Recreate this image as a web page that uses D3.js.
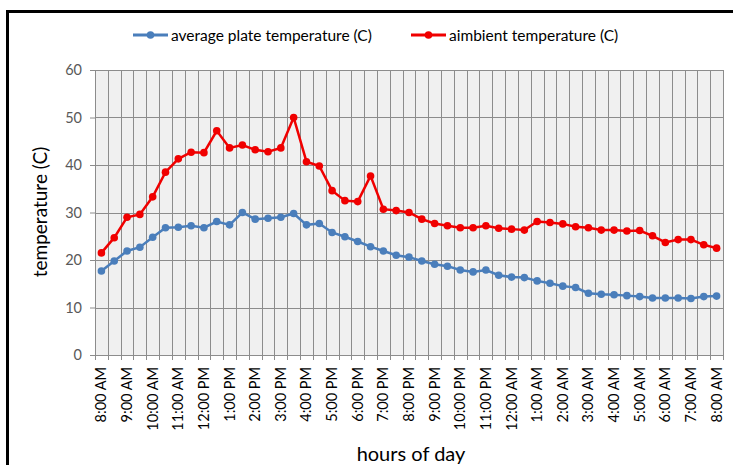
<!DOCTYPE html>
<meta charset="utf-8">
<html>
<head>
<title>plate vs ambient temperature</title>
<style>
body { margin: 0; background: #fff; }
text { font-family: Lato, "Open Sans", sans-serif; }
</style>
</head>
<body>
<script src="https://d3js.org/d3.v7.min.js"></script>
<script>

// half-hour readings, 8:00 AM to 8:00 AM next day
var hourLabels = ["8:00 AM","9:00 AM","10:00 AM","11:00 AM","12:00 PM","1:00 PM","2:00 PM","3:00 PM",
                  "4:00 PM","5:00 PM","6:00 PM","7:00 PM","8:00 PM","9:00 PM","10:00 PM","11:00 PM",
                  "12:00 AM","1:00 AM","2:00 AM","3:00 AM","4:00 AM","5:00 AM","6:00 AM","7:00 AM","8:00 AM"];

var plateTemp = [17.7,19.8,21.9,22.7,24.8,26.8,26.9,27.2,26.8,28.1,27.4,30.0,
                 28.6,28.8,29.0,29.8,27.4,27.7,25.8,24.9,23.9,22.8,21.9,21.0,
                 20.6,19.8,19.1,18.7,17.9,17.5,17.9,16.8,16.4,16.3,15.6,15.1,
                 14.5,14.2,13.0,12.8,12.7,12.5,12.3,12.0,12.0,12.0,11.9,12.3,12.4];

var ambientTemp = [21.5,24.7,29.0,29.6,33.3,38.5,41.3,42.7,42.6,47.2,43.6,44.2,
                   43.2,42.8,43.6,50.0,40.7,39.8,34.6,32.5,32.3,37.7,30.7,30.4,
                   30.0,28.6,27.7,27.2,26.8,26.8,27.2,26.7,26.5,26.3,28.1,27.9,
                   27.6,27.0,26.8,26.3,26.3,26.1,26.2,25.1,23.7,24.3,24.3,23.2,22.5];

var yTicks = [0,10,20,30,40,50,60];

var seriesNames = ["average plate temperature (C)", "aimbient temperature (C)"];
var seriesColors = ["#4a7ebb", "#f00000"];

var width = 733, height = 465;
var margin = {top: 70, right: 10, bottom: 110, left: 95};
var plotW = 723 - margin.left, plotH = 355 - margin.top;

var svg = d3.select("body").append("svg")
    .attr("width", width)
    .attr("height", height);

// outer frame (runs off the right and bottom edge)
svg.append("rect")
    .attr("x", 7.5).attr("y", 11.5)
    .attr("width", 800).attr("height", 600)
    .attr("fill", "none")
    .attr("stroke", "#000")
    .attr("stroke-width", 3);

var idx = d3.range(plateTemp.length);

var x = d3.scaleBand().domain(idx).range([0, plotW]);
var y = d3.scaleLinear().domain([0, 60]).range([plotH, 0]);

var g = svg.append("g").attr("transform", "translate(" + margin.left + "," + margin.top + ")");

g.append("rect")
    .attr("width", plotW).attr("height", plotH)
    .attr("fill", "#f0f0f0");

// vertical grid at every category boundary
var bounds = d3.range(plateTemp.length + 1).map(function(i) { return i * x.step(); });
g.selectAll(".vgrid").data(bounds.slice(1))
  .enter().append("line")
    .attr("x1", function(d) { return Math.round(d) + 0.5; })
    .attr("x2", function(d) { return Math.round(d) + 0.5; })
    .attr("y1", 0).attr("y2", plotH)
    .attr("stroke", "#8c8c8c").attr("stroke-width", 1);

g.selectAll(".hgrid").data(yTicks)
  .enter().append("line")
    .attr("x1", 0).attr("x2", plotW)
    .attr("y1", function(d) { return Math.round(y(d)) + 0.5; })
    .attr("y2", function(d) { return Math.round(y(d)) + 0.5; })
    .attr("stroke", "#8c8c8c").attr("stroke-width", 1);

// y axis
var yAxis = g.append("g")
    .call(d3.axisLeft(y).tickValues(yTicks).tickSize(5).tickPadding(8));
yAxis.select(".domain").attr("stroke", "#8c8c8c");
yAxis.selectAll(".tick line").attr("stroke", "#8c8c8c");
yAxis.selectAll("text").attr("fill", "#595959").style("font-size", "14.5px");

// x axis: ticks at boundaries, labels every hour
var xAxisG = g.append("g").attr("transform", "translate(0," + plotH + ")");
xAxisG.append("line")
    .attr("x1", 0).attr("x2", plotW).attr("y1", 0.5).attr("y2", 0.5)
    .attr("stroke", "#8c8c8c");
xAxisG.selectAll(".xt").data(bounds)
  .enter().append("line")
    .attr("x1", function(d) { return Math.round(d) + 0.5; })
    .attr("x2", function(d) { return Math.round(d) + 0.5; })
    .attr("y1", 0).attr("y2", 5)
    .attr("stroke", "#8c8c8c");
xAxisG.selectAll(".xl").data(hourLabels)
  .enter().append("text")
    .attr("transform", function(d, i) {
      var cx = x(i * 2) + x.bandwidth() / 2;
      return "translate(" + (cx + 5) + ",12) rotate(-90)";
    })
    .attr("text-anchor", "end")
    .attr("fill", "#000")
    .style("font-size", "14.5px")
    .text(function(d) { return d; });

// lines and markers
var line = d3.line()
    .x(function(d, i) { return x(i) + x.bandwidth() / 2; })
    .y(function(d) { return y(d); });

[plateTemp, ambientTemp].forEach(function(s, k) {
  g.append("path").datum(s)
      .attr("d", line)
      .attr("fill", "none")
      .attr("stroke", seriesColors[k])
      .attr("stroke-width", 2.5);
  g.selectAll(".m" + k).data(s)
    .enter().append("circle")
      .attr("cx", function(d, i) { return x(i) + x.bandwidth() / 2; })
      .attr("cy", function(d) { return y(d); })
      .attr("r", 3.8)
      .attr("fill", seriesColors[k]);
});

// axis titles
svg.append("text")
    .attr("transform", "translate(47,212) rotate(-90)")
    .attr("text-anchor", "middle")
    .style("font-size", "19px")
    .text("temperature (C)");

svg.append("text")
    .attr("x", 411).attr("y", 461)
    .attr("text-anchor", "middle")
    .style("font-size", "20px")
    .text("hours of day");

// legend
var legendX = [133, 411];
seriesNames.forEach(function(name, k) {
  var lg = svg.append("g").attr("transform", "translate(" + legendX[k] + ",35)");
  lg.append("line").attr("x1", 0).attr("x2", 35).attr("y1", 0).attr("y2", 0)
      .attr("stroke", seriesColors[k]).attr("stroke-width", 3);
  lg.append("circle").attr("cx", 17.5).attr("cy", 0).attr("r", 3.8).attr("fill", seriesColors[k]);
  lg.append("text").attr("x", 38).attr("y", 5.5)
      .style("font-size", "15.5px")
      .text(name);
});

</script>
</body>
</html>
